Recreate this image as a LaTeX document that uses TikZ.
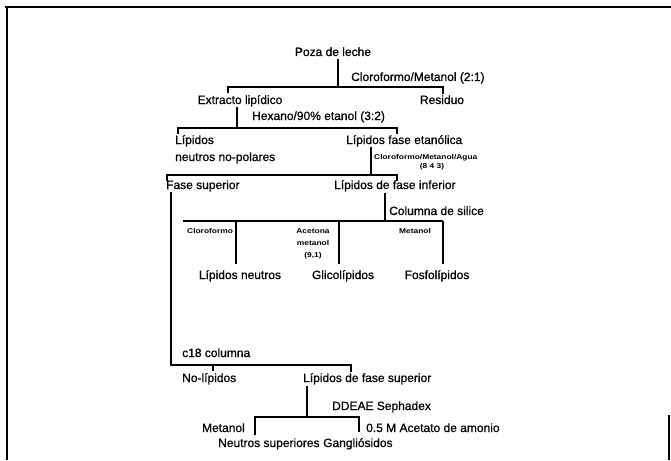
\documentclass[tikz,border=0pt]{standalone}
\usepackage{fontspec}
\usetikzlibrary{calc}
\setmainfont{Liberation Sans}[FakeBold=0.8]
\newfontfamily\smallfam{Liberation Sans}[FakeStretch=1.2]
\newcommand{\mainf}{\fontsize{12}{13}\selectfont}
\newcommand{\smallf}{\smallfam\bfseries\fontsize{7}{7.5}\selectfont}
\begin{document}
\begin{tikzpicture}[x=1pt,y=-1pt,
  mt/.style={font=\mainf, inner sep=0pt},
  st/.style={font=\smallf, inner sep=0pt},
  ln/.style={line width=1.7pt},
  frm/.style={line width=2pt}]
\useasboundingbox (0,0) rectangle (671,460);
% frame
\draw[frm] (5,7) -- (671,7);
\draw[frm] (7,7) -- (7,460);
\draw[line width=1.2pt] (669,415) -- (669,460);

% level 1
\node[mt, anchor=base] (poza) at (333,56) {Poza de leche};
\node[mt, anchor=base west] (cm21) at (351,81) {Cloroformo/Metanol (2:1)};
\coordinate (t1) at (338,59);
\coordinate (j1) at (338,87);
\coordinate (j1l) at (228,87);
\coordinate (j1r) at (443,87);
\draw[ln] (t1) -- (j1);
\draw[ln] ($(j1l)+(0,6)$) -- (j1l) -- (j1r) -- ($(j1r)+(0,7)$);
\node[mt, anchor=base] (extracto) at (240,104) {Extracto lipídico};
\node[mt, anchor=base] (residuo) at (442,104) {Residuo};

% level 2
\coordinate (t2) at (237,107);
\coordinate (j2) at (237,128);
\coordinate (j2l) at (178,128);
\coordinate (j2r) at (397,128);
\draw[ln] (t2) -- (j2);
\draw[ln] ($(j2l)+(0,6)$) -- (j2l) -- (j2r) -- ($(j2r)+(0,6)$);
\node[mt, anchor=base west] (hexano) at (252,120) {Hexano/90\% etanol (3:2)};
\node[mt, anchor=base west] (lip1) at (175,144) {Lípidos};
\node[mt, anchor=base west] (neutros) at (175,161) {neutros no-polares};
\node[mt, anchor=base west] (etan) at (346,144) {Lípidos fase etanólica};

% level 3
\coordinate (t3) at (371,147);
\coordinate (j3) at (371,175);
\coordinate (j3l) at (167,175);
\coordinate (j3r) at (397,175);
\draw[ln] (t3) -- (j3);
\draw[ln] ($(j3l)+(0,6)$) -- (j3l) -- (j3r) -- ($(j3r)+(0,6)$);
\node[st, anchor=base west] (cma) at (374,159) {Cloroformo/Metanol/Agua};
\node[st, anchor=base] (c843) at (432,168) {(8 4 3)};
\node[mt, anchor=base west] (fasesup) at (166,189) {Fase superior};
\node[mt, anchor=base west] (lipinf) at (334,189) {Lípidos de fase inferior};

% level 4 (silica column)
\coordinate (t4) at (385,193);
\coordinate (j4) at (385,221);
\coordinate (j4l) at (183,221);
\coordinate (j4a) at (236,221);
\coordinate (j4b) at (339,221);
\coordinate (j4c) at (443,221);
\draw[ln] (t4) -- (j4);
\draw[ln] (j4l) -- (j4c);
\draw[ln] (j4a) -- ++(0,43);
\draw[ln] (j4b) -- ++(0,43);
\draw[ln] (j4c) -- ++(0,43);
\node[mt, anchor=base west] (columna) at (389,215) {Columna de silice};
\node[st, anchor=base west] (cloro) at (187,233.5) {Cloroformo};
\node[st, anchor=base] (acet) at (313,233.5) {Acetona};
\node[st, anchor=base] (metan) at (313,245.5) {metanol};
\node[st, anchor=base] (c91) at (313,257.5) {(9,1)};
\node[st, anchor=base] (metan2) at (415,233.5) {Metanol};
\node[mt, anchor=base] (lneutros) at (240,279) {Lípidos neutros};
\node[mt, anchor=base] (glico) at (343,279) {Glicolípidos};
\node[mt, anchor=base] (fosfo) at (437,279) {Fosfolípidos};

% level 5 (c18)
\coordinate (t5) at (171,192);
\coordinate (j5) at (171,365);
\coordinate (j5a) at (213,365);
\coordinate (j5r) at (351,365);
\draw[ln] (t5) -- (j5) -- (j5r) -- ($(j5r)+(0,7)$);
\draw[ln] (j5a) -- ($(j5a)+(0,6)$);
\node[mt, anchor=base west] (c18) at (182,357) {c18 columna};
\node[mt, anchor=base west] (nolip) at (182,382) {No-lípidos};
\node[mt, anchor=base west] (lipsup) at (303,382) {Lípidos de fase superior};

% level 6 (DEAE)
\coordinate (t6) at (307,386);
\coordinate (j6) at (307,417);
\coordinate (j6l) at (255,417);
\coordinate (j6r) at (359,417);
\draw[ln] (t6) -- (j6);
\draw[ln] ($(j6l)+(0,18)$) -- (j6l) -- (j6r) -- ($(j6r)+(0,15)$);
\node[mt, anchor=base west] (ddeae) at (332,410) {DDEAE Sephadex};
\node[mt, anchor=base east] (metan3) at (245,432) {Metanol};
\node[mt, anchor=base west] (acetato) at (366,432) {0.5 M Acetato de amonio};
\node[mt, anchor=base west] (neutsup) at (218,447) {Neutros superiores};
\node[mt, anchor=base west] (gangl) at (323,447) {Gangliósidos};
\end{tikzpicture}
\end{document}
